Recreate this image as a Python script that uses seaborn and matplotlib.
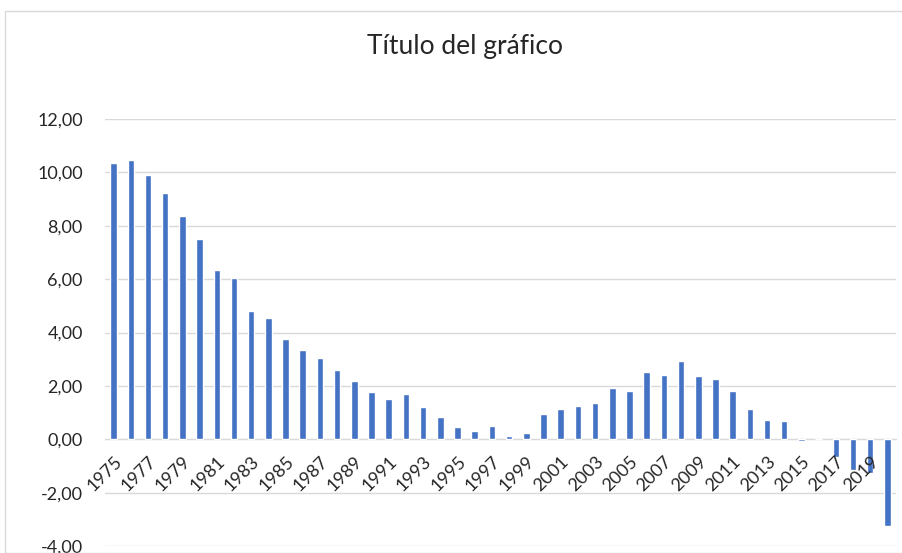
import seaborn as sns
import pandas as pd
import matplotlib.pyplot as plt
from matplotlib.patches import Rectangle
from matplotlib.ticker import FuncFormatter

years = list(range(1975, 2021))
values = [10.35, 10.46, 9.90, 9.22, 8.35, 7.51, 6.34, 6.04, 4.80, 4.56,
          3.74, 3.34, 3.04, 2.60, 2.18, 1.76, 1.50, 1.69, 1.19, 0.83,
          0.45, 0.30, 0.50, 0.14, 0.25, 0.94, 1.14, 1.23, 1.37, 1.92,
          1.81, 2.52, 2.39, 2.92, 2.36, 2.24, 1.79, 1.12, 0.74, 0.69,
          -0.05, 0.00, -0.66, -1.16, -1.25, -3.24]
title = "Título del gráfico"

df = pd.DataFrame({"year": [str(y) for y in years], "value": values})

sns.set_style("white")
plt.rcParams['font.family'] = ['Lato', 'DejaVu Sans']

fig = plt.figure(figsize=(9.03, 5.53), dpi=100)
ax = fig.add_axes([105/903, 7/553, 791/903, 427/553])

# chart border like excel
fig.patches.append(Rectangle((5/903, 0), 1.2, (553-11)/553, transform=fig.transFigure,
                             fill=False, edgecolor="#d9d9d9", linewidth=1))

yticks = list(range(-4, 13, 2))
for t in yticks:
    ax.axhline(t, color="#d9d9d9", linewidth=1, zorder=0.5)

sns.barplot(data=df, x="year", y="value", color="#4472c4", width=0.38,
            saturation=1, ax=ax, zorder=2)

ax.set_ylim(-4, 12)
ax.set_xlim(-0.5, 45.5)
ax.set_yticks(yticks)
ax.yaxis.set_major_formatter(FuncFormatter(lambda v, p: f"{v:.2f}".replace(".", ",")))
ax.grid(False)
ax.set_axisbelow(False)
for s in ["top", "right", "left"]:
    ax.spines[s].set_visible(False)
ax.spines["bottom"].set_position(("data", 0))
ax.spines["bottom"].set_color("#d9d9d9")
ax.spines["bottom"].set_zorder(0.6)

ax.set_xticks(range(0, 46, 2))
ax.set_xticklabels([str(y) for y in years[::2]], rotation=45, ha="right",
                   rotation_mode="anchor")
ax.tick_params(axis="x", length=0, pad=10, labelsize=13, labelcolor="#262626")
ax.tick_params(axis="y", length=0, pad=16, labelsize=13, labelcolor="#262626")
ax.set_xlabel("")
ax.set_ylabel("")

fig.text(465/903, 1 - 47/553, title, ha="center", va="center", fontsize=19,
         color="#262626")

fig.savefig("out.png", dpi=100)
